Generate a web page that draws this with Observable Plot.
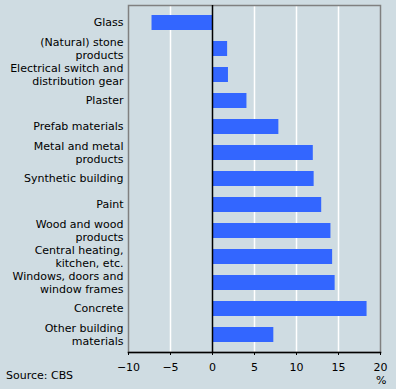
<!DOCTYPE html>
<html>
<head>
<meta charset="utf-8">
<script src="https://cdn.jsdelivr.net/npm/d3@7"></script>
<script src="https://cdn.jsdelivr.net/npm/@observablehq/plot@0.6"></script>
<style>
  html, body { margin: 0; padding: 0; background: #cfdce2; }
  #wrap { position: relative; width: 396px; height: 389px; background: #cfdce2; font-family: "DejaVu Sans", Verdana, sans-serif; }
  #src { position: absolute; left: 6px; top: 370px; font-size: 11px; line-height: 12px; color: #000; }
  #unit { position: absolute; left: 376px; top: 376px; font-size: 11px; line-height: 10px; color: #000; }
</style>
</head>
<body>
<div id="wrap"><div id="chart"></div><div id="unit">%</div><div id="src">Source: CBS</div></div>
<script>
const categories = [
  "Glass",
  "(Natural) stone\nproducts",
  "Electrical switch and\ndistribution gear",
  "Plaster",
  "Prefab materials",
  "Metal and metal\nproducts",
  "Synthetic building",
  "Paint",
  "Wood and wood\nproducts",
  "Central heating,\nkitchen, etc.",
  "Windows, doors and\nwindow frames",
  "Concrete",
  "Other building\nmaterials"
];
const values = [-7.2, 1.8, 1.9, 4.1, 7.9, 12.0, 12.1, 13.0, 14.1, 14.3, 14.6, 18.4, 7.3];
const xTicks = [-10, -5, 0, 5, 10, 15, 20];
const gridTicks = [-5, 5, 10, 15];

const data = categories.map((c, i) => ({category: c, value: values[i]}));

const chart = Plot.plot({
  width: 396,
  height: 389,
  marginLeft: 128,
  marginRight: 16,
  marginTop: 5,
  marginBottom: 37,
  style: {background: "transparent", fontFamily: "DejaVu Sans, Verdana, sans-serif", fontSize: "11px", color: "#000"},
  x: {domain: [-10, 20], ticks: xTicks},
  y: {domain: categories, paddingInner: 0.44, paddingOuter: 0.2},
  marks: [
    Plot.ruleX(gridTicks, {stroke: "#ffffff", strokeWidth: 1.5}),
    Plot.barX(data, {x: "value", y: "category", fill: "#3366ff"}),
    Plot.frame({stroke: "#808080", strokeWidth: 1.5}),
    Plot.frame({anchor: "bottom", stroke: "#000", strokeWidth: 1.5}),
    Plot.ruleX([0], {stroke: "#000", strokeWidth: 1.5}),
    Plot.axisX({ticks: xTicks, tickSize: 3, tickPadding: 8, label: null, fontSize: 11}),
    Plot.axisY({tickSize: 0, tickPadding: 5, label: null, fontSize: 11, lineHeight: 1.27, dy: -1})
  ]
});
document.getElementById("chart").appendChild(chart);
</script>
</body>
</html>
